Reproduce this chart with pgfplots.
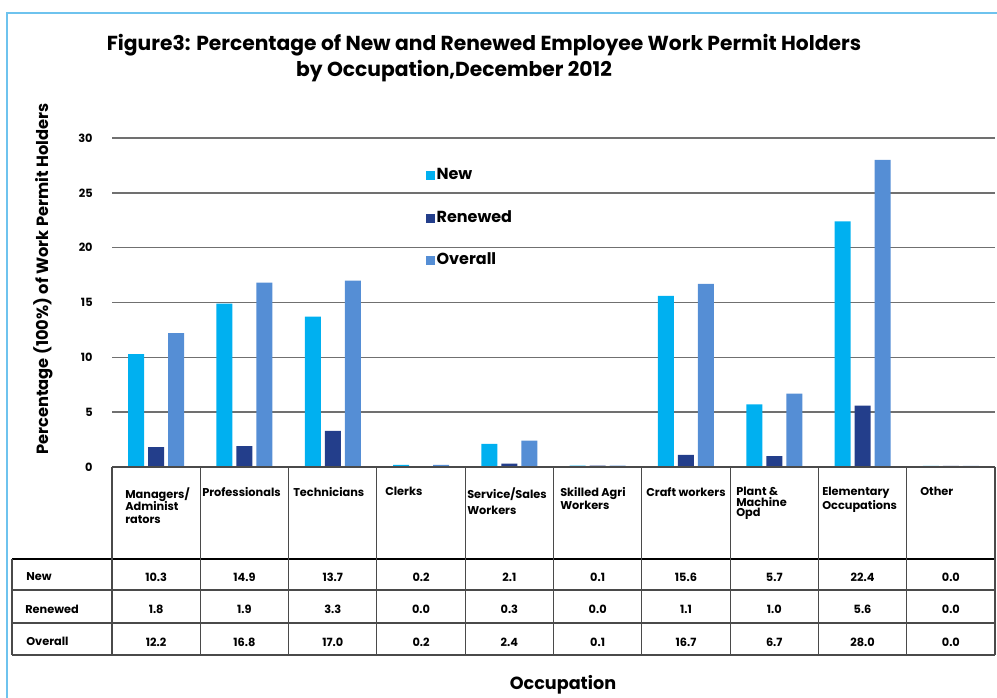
\documentclass[border=0pt]{standalone}
\usepackage{pgfplots}
\pgfplotsset{compat=1.18}
\usepackage{fontspec}
\setmainfont{Poppins}
\definecolor{cNew}{HTML}{00B0F0}
\definecolor{cRen}{HTML}{233E8B}
\definecolor{cAll}{HTML}{558ED5}
\definecolor{gridc}{HTML}{707070}
\definecolor{framec}{HTML}{6EC3EE}
\definecolor{linec}{HTML}{4A4A4A}
\begin{document}
\begin{tikzpicture}[x=0.75pt,y=0.75pt]
\begin{axis}[
  at={(84pt,173.25pt)}, anchor=south west,
  scale only axis, width=662.25pt, height=246.75pt,
  xmin=-0.5, xmax=9.5, ymin=0, ymax=30,
  ytick={0,5,...,30}, xtick=\empty,
  ymajorgrids, grid style={draw=gridc, line width=1.1pt},
  axis line style={draw=none}, major tick length=0pt,
  ybar=3pt, bar width=12pt,
  /pgf/number format/assume math mode=true,
  yticklabel style={font=\bfseries\fontsize{8.5}{9}\selectfont, xshift=-11pt},
  clip=false,
  legend style={at={(0.351,0.92)}, anchor=north west, draw=none, fill=none,
    font=\bfseries\fontsize{12}{13}\selectfont, row sep=18.8pt,
    nodes={text height=8.5pt, text depth=2.5pt, inner sep=1pt}},
  legend cell align=left,
  legend image code/.code={\fill[#1] (0pt,-3.4pt) rectangle (6.8pt,3.4pt);},
]
\addplot[fill=cNew, draw=none] coordinates {(0,10.3)(1,14.9)(2,13.7)(3,0.2)(4,2.1)(5,0.12)(6,15.6)(7,5.7)(8,22.4)(9,0.1)};
\addplot[fill=cRen, draw=none] coordinates {(0,1.8)(1,1.9)(2,3.3)(3,0.0)(4,0.3)(5,0.12)(6,1.1)(7,1.0)(8,5.6)(9,0.1)};
\addplot[fill=cAll, draw=none] coordinates {(0,12.2)(1,16.8)(2,17.0)(3,0.2)(4,2.4)(5,0.12)(6,16.7)(7,6.7)(8,28.0)(9,0.1)};
\legend{New,Renewed,Overall}
\end{axis}
\begin{scope}[shift={(0,698)}, yscale=-1]
\useasboundingbox (0,0) rectangle (997,698);
% frame
\draw[framec, line width=1.5pt] (7,698) -- (7,13) -- (997,13);
% title
\node[font=\bfseries\fontsize{15.2}{18}\selectfont] at (484,45) {Figure3: Percentage of New and Renewed Employee Work Permit Holders};
\node[font=\bfseries\fontsize{15.2}{18}\selectfont] at (454,71) {by Occupation,December 2012};
% y label
\node[rotate=90, font=\bfseries\fontsize{12.2}{14}\selectfont] at (43,279) {Percentage (100\%) of Work Permit Holders};
% x label
\node[font=\bfseries\fontsize{13.2}{15}\selectfont] at (563,685) {Occupation};
% table lines
\draw[linec, line width=0.8pt] (112,467) -- (995,467);
\draw[black, line width=0.8pt] (12,559) -- (995,559);
\draw[linec, line width=0.8pt] (12,590) -- (995,590);
\draw[linec, line width=0.8pt] (12,623) -- (995,623);
\draw[linec, line width=0.8pt] (12,655) -- (995,655);
\draw[linec, line width=0.8pt] (12,559) -- (12,655);
\foreach \i in {0,...,10} { \draw[linec, line width=0.8pt] ({112+88.3*\i},467) -- ({112+88.3*\i},655); }
% row labels
\begin{scope}[every node/.style={font=\bfseries\fontsize{8.5}{10}\selectfont, anchor=west, inner sep=0pt}]
\node at (26,577) {New};
\node at (25,609) {Renewed};
\node at (26,641) {Overall};
\end{scope}
% category labels
\begin{scope}[every node/.style={font=\bfseries\fontsize{8.5}{9.5}\selectfont, anchor=north west, align=left, inner sep=0pt}]
\node at (125,487) {Managers/\\Administ\\rators};
\node at (202,487) {Professionals};
\node at (293,487) {Technicians};
\node at (385,487) {Clerks};
\node[font=\bfseries\fontsize{8.5}{12}\selectfont] at (467,487) {Service/Sales\\Workers};
\node[font=\bfseries\fontsize{8.5}{8}\selectfont] at (560,487) {Skilled Agri\\Workers};
\node at (646,487) {Craft workers};
\node[font=\bfseries\fontsize{8.5}{8}\selectfont] at (736,487) {Plant \&\\Machine\\Opd};
\node[font=\bfseries\fontsize{8.5}{7.5}\selectfont] at (822,487) {Elementary\\Occupations};
\node at (920,487) {Other};
\end{scope}
% values
\begin{scope}[every node/.style={font=\bfseries\fontsize{8.5}{10}\selectfont, inner sep=0pt}]
\foreach \v [count=\i from 0] in {10.3,14.9,13.7,0.2,2.1,0.1,15.6,5.7,22.4,0.0} { \node at ({156.15+88.3*\i},577) {\v}; }
\foreach \v [count=\i from 0] in {1.8,1.9,3.3,0.0,0.3,0.0,1.1,1.0,5.6,0.0} { \node at ({156.15+88.3*\i},609) {\v}; }
\foreach \v [count=\i from 0] in {12.2,16.8,17.0,0.2,2.4,0.1,16.7,6.7,28.0,0.0} { \node at ({156.15+88.3*\i},642) {\v}; }
\end{scope}
\end{scope}
\end{tikzpicture}
\end{document}
